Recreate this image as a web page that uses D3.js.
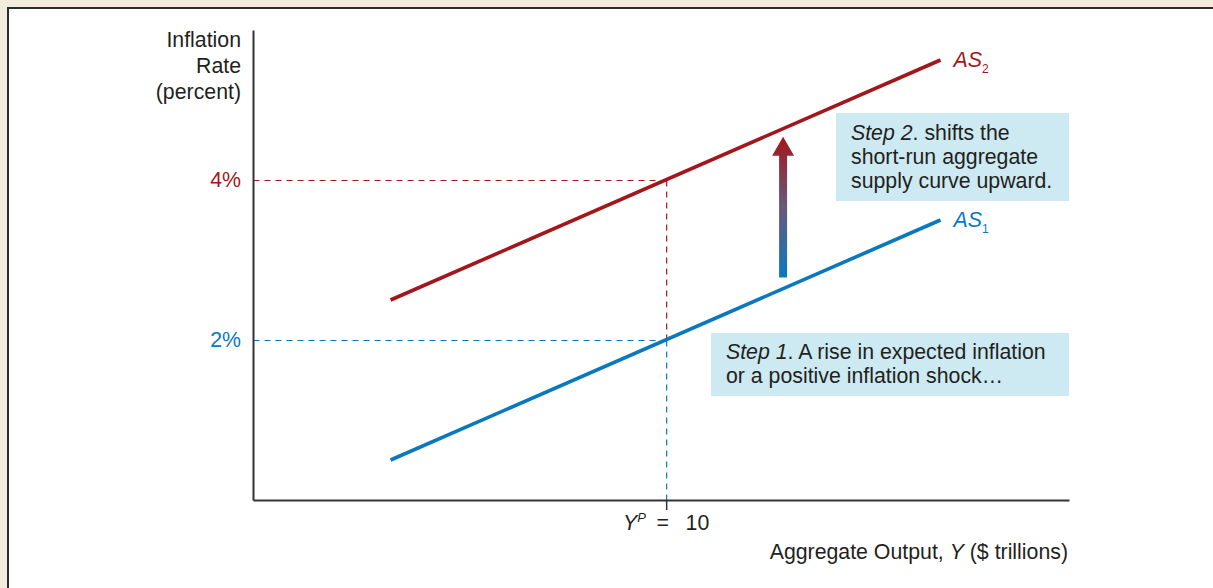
<!DOCTYPE html>
<html>
<head>
<meta charset="utf-8">
<script src="https://cdn.jsdelivr.net/npm/d3@7"></script>
<style>
  body { margin: 0; background: #f3ecdc; }
  svg { display: block; font-family: "Liberation Sans", Arial, sans-serif; }
</style>
</head>
<body>
<div id="chart"></div>
<script>
// values
var as1 = [[3.33, 0.5], [16.64, 3.5]];
var as2 = [[3.33, 2.5], [16.64, 5.5]];
var yTicks = [2, 4];
var yTickLabels = ["2%", "4%"];
var potentialOutput = 10;
var arrowX = 12.83, arrowFrom = 2.78, arrowTo = 4.54;

var red = "#a3161b", blue = "#0a78bf";
var fs = "21.3px";

var W = 1213, H = 588;
var svg = d3.select("#chart").append("svg")
    .attr("width", W).attr("height", H);

// frame
svg.append("rect").attr("width", W).attr("height", H).attr("fill", "#f3ecdc");
svg.append("rect")
    .attr("x", 8).attr("y", 8).attr("width", W + 20).attr("height", H + 20)
    .attr("fill", "#fff").attr("stroke", "#2b2b2b").attr("stroke-width", 2);

var x = d3.scaleLinear().domain([0, 19.75]).range([253, 1069]);
var y = d3.scaleLinear().domain([0, 5.875]).range([500, 30]);

var defs = svg.append("defs");
var grad = defs.append("linearGradient")
    .attr("id", "arrowGrad")
    .attr("gradientUnits", "userSpaceOnUse")
    .attr("x1", 0).attr("x2", 0)
    .attr("y1", y(arrowFrom)).attr("y2", y(arrowTo));
grad.append("stop").attr("offset", "0%").attr("stop-color", "#0a78bf");
grad.append("stop").attr("offset", "50%").attr("stop-color", "#665a7a");
grad.append("stop").attr("offset", "100%").attr("stop-color", "#a3161b");

// dashed guides (half-pixel offset keeps them crisp)
var g = svg.append("g").attr("transform", "translate(0.5,0.5)");
function dash(x1, y1, x2, y2, c) {
    g.append("line")
        .attr("x1", x1).attr("y1", y1).attr("x2", x2).attr("y2", y2)
        .attr("stroke", c).attr("stroke-width", 1.2)
        .attr("stroke-dasharray", "6,5");
}
dash(x(0), y(4), x(potentialOutput), y(4), red);
dash(x(0), y(2), x(potentialOutput), y(2), blue);
dash(x(potentialOutput), y(4), x(potentialOutput), y(2), red);
dash(x(potentialOutput), y(2), x(potentialOutput), y(0), blue);

// axes
var yAxis = svg.append("g")
    .attr("transform", "translate(" + x(0) + ",0)")
    .call(d3.axisLeft(y).tickValues([]).tickSizeOuter(0));
var xAxis = svg.append("g")
    .attr("transform", "translate(0," + y(0) + ")")
    .call(d3.axisBottom(x).tickValues([potentialOutput]).tickFormat("").tickSize(10).tickSizeOuter(0));
svg.selectAll(".domain").attr("stroke", "#333").attr("stroke-width", 2);
xAxis.selectAll(".tick line").attr("stroke", "#333").attr("stroke-width", 1.5);

// y tick labels
svg.selectAll(".ylab")
    .data(yTicks)
    .join("text")
    .attr("x", 241)
    .attr("y", function (d) { return y(d) + 7; })
    .attr("text-anchor", "end")
    .attr("font-size", fs)
    .attr("fill", function (d, i) { return i == 0 ? blue : red; })
    .text(function (d, i) { return yTickLabels[i]; });

// y axis title
svg.append("text")
    .attr("text-anchor", "end")
    .attr("font-size", fs)
    .attr("fill", "#231f20")
    .selectAll("tspan")
    .data(["Inflation", "Rate", "(percent)"])
    .join("tspan")
    .attr("x", 241)
    .attr("y", function (d, i) { return 47 + i * 26; })
    .text(function (d) { return d; });

// x tick label Y^P = 10
var xl = svg.append("text")
    .attr("x", x(potentialOutput))
    .attr("y", 530)
    .attr("text-anchor", "middle")
    .attr("font-size", fs)
    .attr("fill", "#231f20");
xl.append("tspan").attr("font-style", "italic").text("Y");
xl.append("tspan").attr("font-style", "italic").attr("font-size", "13px").attr("dy", -8).text("P");
xl.append("tspan").attr("dy", 8).text("\u2002=\u2002 10");

// x axis title
var xt = svg.append("text")
    .attr("x", 1068)
    .attr("y", 559)
    .attr("text-anchor", "end")
    .attr("font-size", fs)
    .attr("fill", "#231f20");
xt.append("tspan").text("Aggregate Output, ");
xt.append("tspan").attr("font-style", "italic").text("Y");
xt.append("tspan").text(" ($ trillions)");

// AS curves
var line = d3.line()
    .x(function (d) { return x(d[0]); })
    .y(function (d) { return y(d[1]); });

svg.append("path").datum(as1)
    .attr("d", line).attr("fill", "none")
    .attr("stroke", blue).attr("stroke-width", 3.6);
svg.append("path").datum(as2)
    .attr("d", line).attr("fill", "none")
    .attr("stroke", red).attr("stroke-width", 3.6);

function asLabel(pt, sub, color) {
    var t = svg.append("text")
        .attr("x", x(pt[0]) + 13)
        .attr("y", y(pt[1]) + 7)
        .attr("font-size", fs)
        .attr("fill", color);
    t.append("tspan").attr("font-style", "italic").text("AS");
    t.append("tspan").attr("font-size", "12px").attr("dy", 6).text(sub);
}
asLabel(as2[1], "2", red);
asLabel(as1[1], "1", blue);

// arrow
var ax = x(arrowX), ay0 = y(arrowFrom), ay1 = y(arrowTo);
svg.append("path")
    .attr("d", "M" + (ax - 4) + "," + ay0 +
        "L" + (ax - 4) + "," + (ay1 + 19) +
        "L" + (ax - 11) + "," + (ay1 + 19) +
        "L" + ax + "," + ay1 +
        "L" + (ax + 11) + "," + (ay1 + 19) +
        "L" + (ax + 4) + "," + (ay1 + 19) +
        "L" + (ax + 4) + "," + ay0 + "Z")
    .attr("fill", "url(#arrowGrad)");

// annotation boxes
function noteBox(bx, by, bw, bh, lines, first) {
    svg.append("rect")
        .attr("x", bx).attr("y", by).attr("width", bw).attr("height", bh)
        .attr("fill", "#cdeaf2");
    var t = svg.append("text")
        .attr("font-size", fs)
        .attr("fill", "#231f20");
    lines.forEach(function (l, i) {
        var ln = t.append("tspan").attr("x", bx + 15).attr("y", by + first + i * 24);
        l.forEach(function (part) {
            ln.append("tspan")
                .attr("font-style", part.it ? "italic" : "normal")
                .text(part.t);
        });
    });
}
noteBox(836, 113, 233, 88, [
    [{t: "Step 2", it: true}, {t: ". shifts the"}],
    [{t: "short-run aggregate"}],
    [{t: "supply curve upward."}]
], 27);
noteBox(711, 333, 358, 63, [
    [{t: "Step 1", it: true}, {t: ". A rise in expected inflation"}],
    [{t: "or a positive inflation shock\u2026"}]
], 26);
</script>
</body>
</html>
